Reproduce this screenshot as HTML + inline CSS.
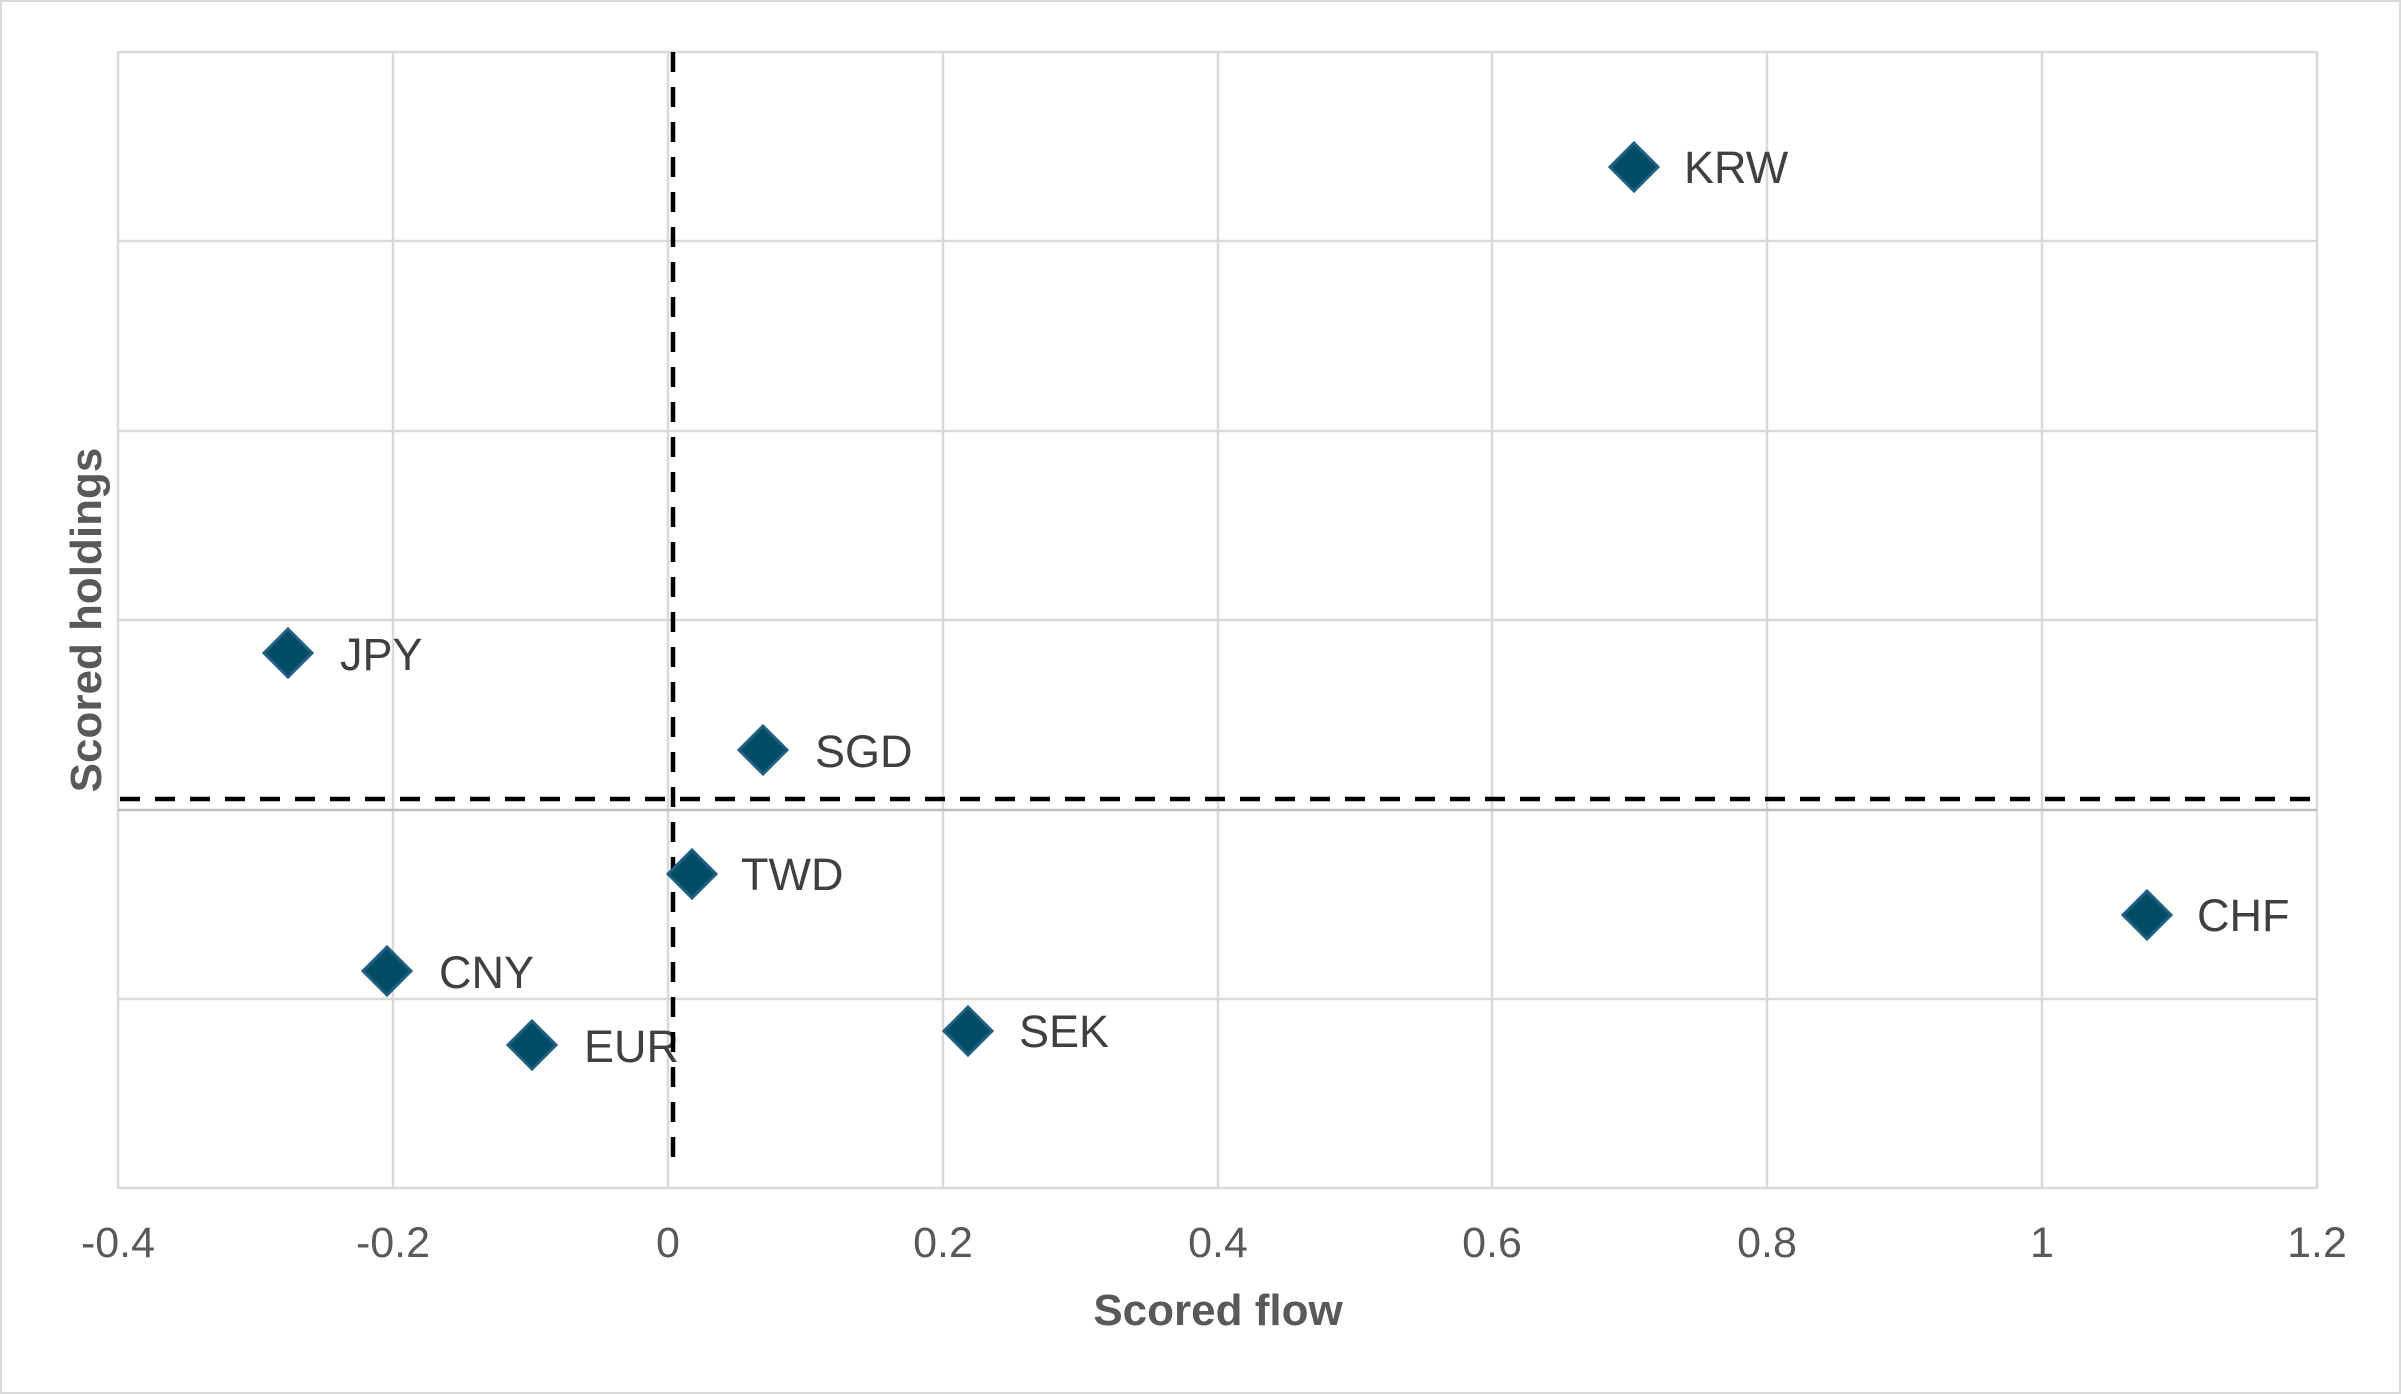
<!DOCTYPE html>
<html><head><meta charset="utf-8"><style>
html,body{margin:0;padding:0;background:#fff;}
svg{display:block;}
</style></head><body>
<svg width="2401" height="1394" viewBox="0 0 2401 1394" xmlns="http://www.w3.org/2000/svg" font-family="Liberation Sans, Arial, sans-serif">
<rect x="1" y="1" width="2399" height="1392" fill="#fff" stroke="#d9d9d9" stroke-width="2"/>
<g stroke="#d9d9d9" stroke-width="2.5" fill="none">
<line x1="118" y1="52" x2="2317" y2="52"/>
<line x1="118" y1="241" x2="2317" y2="241"/>
<line x1="118" y1="431" x2="2317" y2="431"/>
<line x1="118" y1="620" x2="2317" y2="620"/>
<line x1="118" y1="999" x2="2317" y2="999"/>
<line x1="118" y1="1188" x2="2317" y2="1188"/>
<line x1="118" y1="52" x2="118" y2="1188"/>
<line x1="393" y1="52" x2="393" y2="1188"/>
<line x1="668" y1="52" x2="668" y2="1188"/>
<line x1="943" y1="52" x2="943" y2="1188"/>
<line x1="1218" y1="52" x2="1218" y2="1188"/>
<line x1="1492" y1="52" x2="1492" y2="1188"/>
<line x1="1767" y1="52" x2="1767" y2="1188"/>
<line x1="2042" y1="52" x2="2042" y2="1188"/>
<line x1="2317" y1="52" x2="2317" y2="1188"/>
</g>
<line x1="118" y1="810" x2="2317" y2="810" stroke="#bfbfbf" stroke-width="2.5"/>
<g fill="#404040" font-size="45">
<text x="1684" y="183">KRW</text>
<text x="340" y="670">JPY</text>
<text x="815" y="767">SGD</text>
<text x="741" y="890">TWD</text>
<text x="2197" y="931">CHF</text>
<text x="439" y="988">CNY</text>
<text x="584" y="1062">EUR</text>
<text x="1019" y="1047">SEK</text>
</g>
<g stroke="#000" stroke-width="4.5" stroke-dasharray="20,15" fill="none">
<line x1="120" y1="799" x2="2320" y2="799"/>
<line x1="673" y1="52" x2="673" y2="1160"/>
</g>
<g fill="#004C66" stroke="#1F5F80" stroke-width="3">
<path d="M1634,143 L1658,167 L1634,191 L1610,167Z"/>
<path d="M288,629 L312,653 L288,677 L264,653Z"/>
<path d="M763,726 L787,750 L763,774 L739,750Z"/>
<path d="M692,850 L716,874 L692,898 L668,874Z"/>
<path d="M2147,891 L2171,915 L2147,939 L2123,915Z"/>
<path d="M387,947 L411,971 L387,995 L363,971Z"/>
<path d="M532,1021 L556,1045 L532,1069 L508,1045Z"/>
<path d="M968,1007 L992,1031 L968,1055 L944,1031Z"/>
</g>
<g fill="#595959" font-size="43" text-anchor="middle">
<text x="118" y="1257">-0.4</text>
<text x="393" y="1257">-0.2</text>
<text x="668" y="1257">0</text>
<text x="943" y="1257">0.2</text>
<text x="1218" y="1257">0.4</text>
<text x="1492" y="1257">0.6</text>
<text x="1767" y="1257">0.8</text>
<text x="2042" y="1257">1</text>
<text x="2317" y="1257">1.2</text>
</g>
<text x="1218" y="1325" fill="#595959" font-size="44" font-weight="bold" text-anchor="middle">Scored flow</text>
<text transform="translate(101,620) rotate(-90)" fill="#595959" font-size="44" font-weight="bold" text-anchor="middle">Scored holdings</text>
</svg>
</body></html>
